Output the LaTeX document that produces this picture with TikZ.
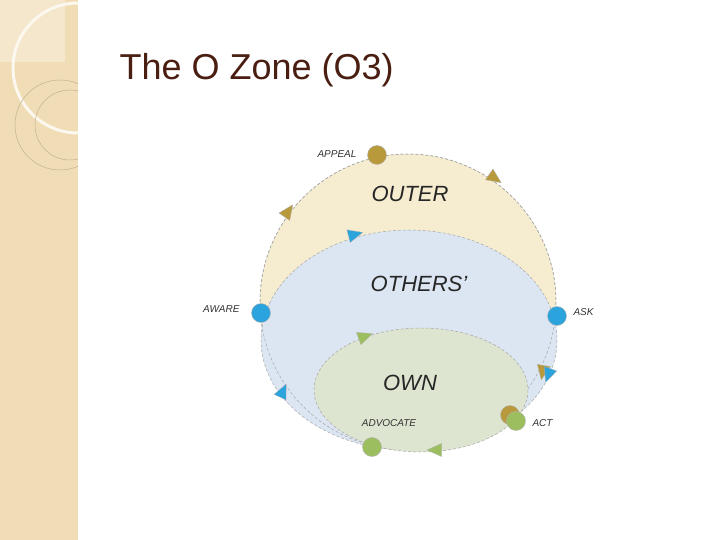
\documentclass[tikz,border=0pt]{standalone}
\usepackage{fontspec}
\setmainfont{Liberation Sans}
\usetikzlibrary{shapes.geometric}
\definecolor{strip}{HTML}{F0DDB5}
\definecolor{beige}{HTML}{F6EDD0}
\definecolor{paleblue}{HTML}{DCE6F2}
\definecolor{palegreen}{HTML}{DDE5D0}
\definecolor{brownc}{HTML}{B89A3C}
\definecolor{bluec}{HTML}{2BA3DD}
\definecolor{greenc}{HTML}{9DBE5E}
\definecolor{titlec}{HTML}{4A1F12}
\tikzset{
  zone/.style={draw=gray!70, densely dashed, line width=0.5pt},
  dot/.style={circle, minimum size=19pt, inner sep=0pt, draw=gray!60, line width=0.4pt},
  triline/.style={draw=gray!60, line width=0.3pt},
  lbl/.style={font=\fontsize{10}{11}\selectfont\itshape, text=black!80},
  big/.style={font=\fontsize{22}{24}\selectfont\itshape, text=black!85}
}
\newcommand{\mytri}[4]{\filldraw[triline, fill=#1] ({#2+10*cos(#4)},{#3-10*sin(#4)}) -- ({#2+8*cos(#4+125)},{#3-8*sin(#4+125)}) -- ({#2+8*cos(#4-125)},{#3-8*sin(#4-125)}) -- cycle;}
\begin{document}
\begin{tikzpicture}[x=1pt,y=-1pt]
\useasboundingbox (0,0) rectangle (720,540);
\fill[white] (0,0) rectangle (720,540);
% left strip
\fill[strip] (0,0) rectangle (78,540);
\begin{scope}
\clip (0,0) rectangle (78,540);
\fill[white,opacity=0.3] (0,0) rectangle (65,62);
\draw[white!80!strip, line width=3pt] (78,68) circle[radius=65];
\draw[black!20!strip, line width=0.5pt] (60,125) circle[radius=45];
\draw[black!20!strip, line width=0.5pt] (70,125) circle[radius=35];
\end{scope}
% title
\node[anchor=west, text=titlec, font=\fontsize{36}{40}\selectfont] (title) at (116,70) {The O Zone (O3)};
% zones
\fill[beige, zone] (408,302) circle[radius=148];
\fill[paleblue, zone] (409,340) ellipse[x radius=148, y radius=110];
\draw[zone] (408,302) circle[radius=148];
\fill[palegreen, zone] (421,390) ellipse[x radius=107, y radius=62];
% labels
\node[big] (outer) at (410,194) {OUTER};
\node[big] (others) at (419,284) {OTHERS'};
\node[big] (own) at (410,383) {OWN};
% triangles
\mytri{brownc}{493}{177}{-35}
\mytri{brownc}{287}{213}{55}
\mytri{brownc}{543}{370}{-100}
\mytri{bluec}{353}{235}{15}
\mytri{bluec}{549}{373}{-110}
\mytri{bluec}{282}{393}{65}
\mytri{greenc}{363}{337}{20}
\mytri{greenc}{437}{450}{180}
% dots
\node[dot, fill=brownc] (appeal) at (377,155) {};
\node[dot, fill=bluec] (aware) at (261,313) {};
\node[dot, fill=bluec] (ask) at (557,316) {};
\node[dot, fill=brownc] (act0) at (510,415) {};
\node[dot, fill=greenc] (act) at (516,421) {};
\node[dot, fill=greenc] (advocate) at (372,447) {};
% dot labels
\node[lbl, anchor=east] (lappeal) at (360,154) {APPEAL};
\node[lbl, anchor=east] (laware) at (243,309) {AWARE};
\node[lbl, anchor=west] (lask) at (570,312) {ASK};
\node[lbl, anchor=west] (lact) at (529,423) {ACT};
\node[lbl] (ladvocate) at (389,423) {ADVOCATE};
\end{tikzpicture}
\end{document}
